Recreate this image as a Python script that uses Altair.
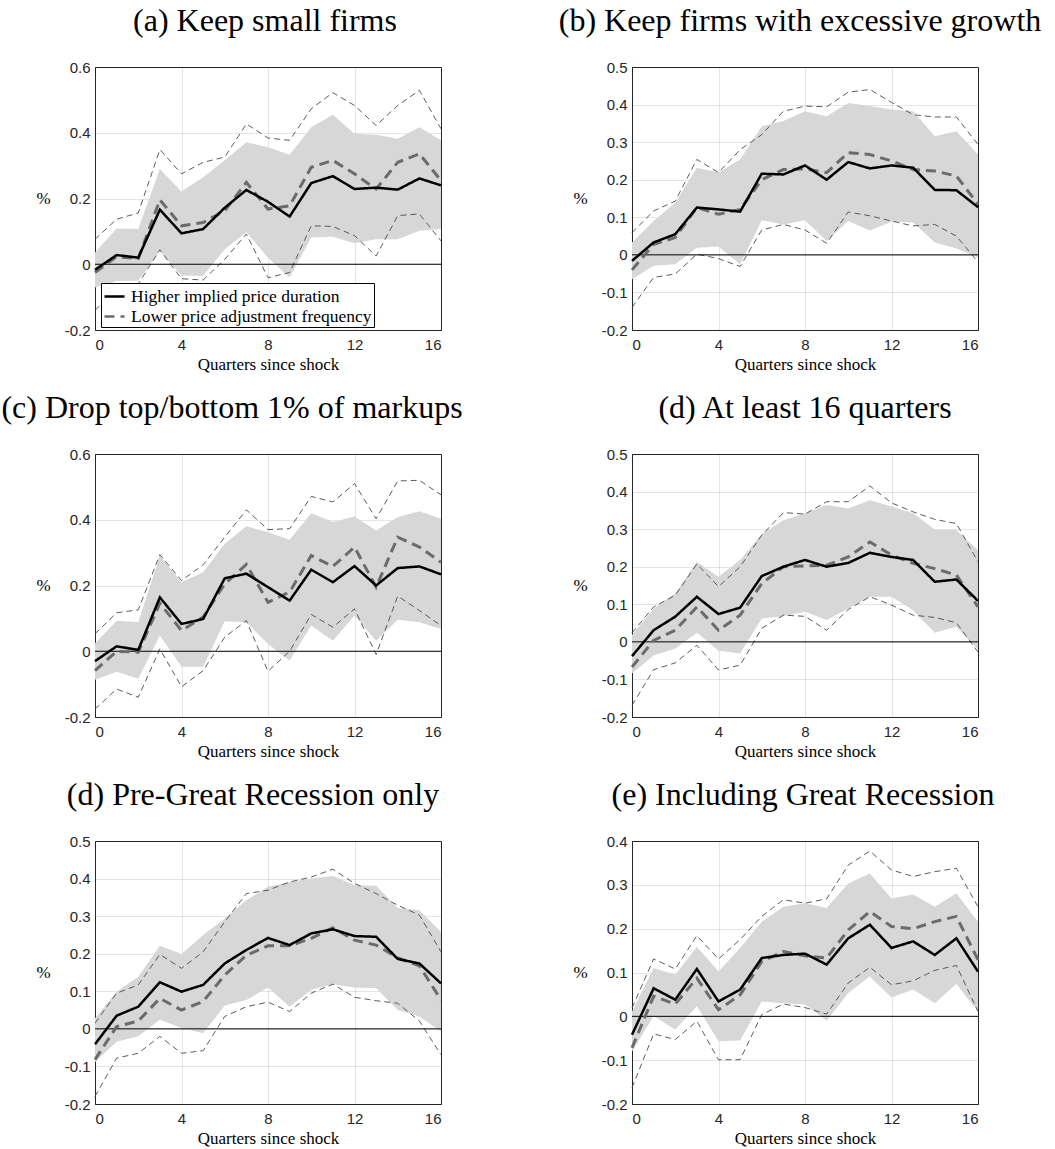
import altair as alt
import pandas as pd

# ---------------------------------------------------------------------------
# Impulse responses (in %) over 0..16 quarters after the shock.
#   *_dur       : higher implied price duration (point estimate)
#   *_dur_lo/hi : its confidence band (shaded)
#   *_freq      : lower price adjustment frequency (point estimate)
#   *_freq_lo/hi: its confidence band (thin dashed)
# ---------------------------------------------------------------------------
quarters = list(range(17))
x_ticks = [0, 4, 8, 12, 16]

series_names = ["Higher implied price duration", "Lower price adjustment frequency"]

titles = [
    "(a) Keep small firms",
    "(b) Keep firms with excessive growth",
    "(c) Drop top/bottom 1% of markups",
    "(d) At least 16 quarters",
    "(d) Pre-Great Recession only",
    "(e) Including Great Recession",
]
# horizontal centre of each heading, measured from the plot's left edge
title_centres = [170, 168, 137, 173, 158, 171]

y_domains = [[-0.2, 0.6], [-0.2, 0.5], [-0.2, 0.6], [-0.2, 0.5], [-0.2, 0.5], [-0.2, 0.4]]
y_ticks = [
    [-0.2, 0.0, 0.2, 0.4, 0.6],
    [-0.2, -0.1, 0.0, 0.1, 0.2, 0.3, 0.4, 0.5],
    [-0.2, 0.0, 0.2, 0.4, 0.6],
    [-0.2, -0.1, 0.0, 0.1, 0.2, 0.3, 0.4, 0.5],
    [-0.2, -0.1, 0.0, 0.1, 0.2, 0.3, 0.4, 0.5],
    [-0.2, -0.1, 0.0, 0.1, 0.2, 0.3, 0.4],
]

# (a) Keep small firms
a_dur = [-0.017, 0.028, 0.02, 0.166, 0.094, 0.107, 0.172, 0.226, 0.19, 0.145, 0.247, 0.268, 0.229, 0.233, 0.227, 0.261, 0.24]
a_freq = [-0.025, 0.023, 0.017, 0.196, 0.117, 0.127, 0.163, 0.249, 0.168, 0.178, 0.295, 0.316, 0.275, 0.229, 0.31, 0.336, 0.255]
a_dur_lo = [-0.071, -0.051, -0.05, 0.04, -0.034, -0.036, 0.046, 0.097, 0.02, -0.04, 0.081, 0.084, 0.064, 0.076, 0.076, 0.102, 0.107]
a_dur_hi = [0.036, 0.109, 0.107, 0.29, 0.221, 0.265, 0.316, 0.371, 0.356, 0.333, 0.417, 0.455, 0.397, 0.394, 0.382, 0.417, 0.377]
a_freq_lo = [-0.14, -0.075, -0.06, 0.044, -0.044, -0.048, 0.015, 0.092, -0.041, -0.025, 0.117, 0.115, 0.087, 0.025, 0.148, 0.153, 0.071]
a_freq_hi = [0.076, 0.137, 0.156, 0.349, 0.275, 0.31, 0.326, 0.427, 0.384, 0.377, 0.473, 0.522, 0.483, 0.422, 0.483, 0.529, 0.412]

# (b) Keep firms with excessive growth
b_dur = [-0.016, 0.033, 0.055, 0.126, 0.121, 0.115, 0.216, 0.214, 0.238, 0.2, 0.247, 0.23, 0.238, 0.232, 0.173, 0.172, 0.127]
b_freq = [-0.04, 0.028, 0.046, 0.126, 0.108, 0.121, 0.2, 0.227, 0.229, 0.219, 0.272, 0.267, 0.25, 0.227, 0.223, 0.21, 0.135]
b_dur_lo = [-0.065, -0.029, -0.025, 0.019, 0.022, -0.025, 0.092, 0.081, 0.092, 0.037, 0.09, 0.065, 0.088, 0.086, 0.033, 0.017, -0.007]
b_dur_hi = [0.033, 0.09, 0.139, 0.232, 0.219, 0.254, 0.342, 0.356, 0.382, 0.369, 0.404, 0.396, 0.387, 0.382, 0.316, 0.329, 0.267]
b_freq_lo = [-0.14, -0.06, -0.051, 0.002, -0.01, -0.031, 0.066, 0.081, 0.066, 0.031, 0.114, 0.104, 0.09, 0.077, 0.081, 0.05, -0.019]
b_freq_hi = [0.059, 0.117, 0.143, 0.254, 0.219, 0.28, 0.32, 0.382, 0.396, 0.394, 0.433, 0.44, 0.406, 0.373, 0.367, 0.367, 0.294]

# (c) Drop top/bottom 1% of markups
c_dur = [-0.03, 0.015, 0.004, 0.164, 0.083, 0.098, 0.222, 0.236, 0.195, 0.154, 0.248, 0.21, 0.259, 0.2, 0.253, 0.258, 0.234]
c_freq = [-0.059, 0.0, -0.003, 0.146, 0.063, 0.104, 0.205, 0.264, 0.149, 0.18, 0.291, 0.258, 0.317, 0.195, 0.347, 0.317, 0.271]
c_dur_lo = [-0.087, -0.062, -0.084, 0.048, -0.047, -0.047, 0.091, 0.088, 0.022, -0.028, 0.078, 0.032, 0.109, 0.032, 0.096, 0.088, 0.068]
c_dur_hi = [0.024, 0.093, 0.088, 0.291, 0.21, 0.24, 0.327, 0.38, 0.362, 0.339, 0.42, 0.393, 0.41, 0.367, 0.408, 0.426, 0.403]
c_freq_lo = [-0.176, -0.115, -0.14, 0.007, -0.108, -0.059, 0.043, 0.093, -0.061, 0.0, 0.112, 0.073, 0.129, -0.01, 0.168, 0.124, 0.078]
c_freq_hi = [0.053, 0.117, 0.126, 0.294, 0.215, 0.263, 0.347, 0.43, 0.37, 0.373, 0.471, 0.454, 0.51, 0.403, 0.518, 0.52, 0.476]

# (d) At least 16 quarters
d_dur = [-0.038, 0.031, 0.067, 0.12, 0.074, 0.091, 0.175, 0.2, 0.218, 0.2, 0.21, 0.237, 0.226, 0.218, 0.16, 0.166, 0.109]
d_freq = [-0.067, 0.004, 0.031, 0.093, 0.031, 0.071, 0.155, 0.2, 0.202, 0.204, 0.226, 0.266, 0.231, 0.209, 0.195, 0.178, 0.093]
d_dur_lo = [-0.084, -0.036, -0.018, 0.024, -0.024, -0.031, 0.062, 0.068, 0.08, 0.058, 0.089, 0.12, 0.12, 0.084, 0.024, 0.04, -0.022]
d_dur_hi = [0.018, 0.089, 0.129, 0.213, 0.173, 0.218, 0.287, 0.324, 0.342, 0.364, 0.355, 0.377, 0.36, 0.342, 0.299, 0.298, 0.244]
d_freq_lo = [-0.169, -0.074, -0.056, -0.009, -0.075, -0.062, 0.036, 0.071, 0.068, 0.031, 0.086, 0.12, 0.098, 0.071, 0.065, 0.051, -0.027]
d_freq_hi = [0.024, 0.093, 0.124, 0.207, 0.147, 0.2, 0.284, 0.344, 0.34, 0.373, 0.373, 0.415, 0.37, 0.346, 0.326, 0.315, 0.213]

# (d) Pre-Great Recession only
e_dur = [-0.041, 0.035, 0.059, 0.124, 0.099, 0.117, 0.174, 0.21, 0.242, 0.223, 0.254, 0.265, 0.247, 0.245, 0.186, 0.174, 0.121]
e_freq = [-0.082, 0.006, 0.021, 0.081, 0.05, 0.073, 0.143, 0.196, 0.221, 0.221, 0.241, 0.269, 0.236, 0.223, 0.189, 0.168, 0.077]
e_dur_lo = [-0.088, -0.034, -0.02, 0.024, 0.002, -0.012, 0.062, 0.077, 0.11, 0.059, 0.104, 0.119, 0.11, 0.108, 0.05, 0.033, -0.007]
e_dur_hi = [0.028, 0.099, 0.139, 0.221, 0.199, 0.25, 0.294, 0.342, 0.378, 0.391, 0.4, 0.407, 0.382, 0.381, 0.322, 0.316, 0.258]
e_freq_lo = [-0.18, -0.078, -0.065, -0.02, -0.065, -0.058, 0.033, 0.059, 0.071, 0.046, 0.095, 0.119, 0.084, 0.075, 0.068, 0.021, -0.069]
e_freq_hi = [0.015, 0.095, 0.117, 0.198, 0.161, 0.205, 0.285, 0.36, 0.369, 0.391, 0.404, 0.425, 0.387, 0.36, 0.329, 0.303, 0.205]

# (e) Including Great Recession
f_dur = [-0.042, 0.064, 0.038, 0.108, 0.034, 0.061, 0.133, 0.14, 0.143, 0.118, 0.178, 0.209, 0.156, 0.171, 0.14, 0.178, 0.102]
f_freq = [-0.072, 0.046, 0.028, 0.087, 0.015, 0.049, 0.125, 0.148, 0.138, 0.133, 0.197, 0.239, 0.205, 0.2, 0.216, 0.228, 0.129]
f_dur_lo = [-0.08, 0.0, -0.03, 0.023, -0.057, -0.055, 0.034, 0.03, 0.027, -0.01, 0.053, 0.091, 0.043, 0.061, 0.03, 0.074, 0.011]
f_dur_hi = [0.011, 0.11, 0.095, 0.159, 0.102, 0.156, 0.216, 0.25, 0.258, 0.247, 0.303, 0.326, 0.269, 0.278, 0.25, 0.281, 0.216]
f_freq_lo = [-0.163, -0.04, -0.053, -0.011, -0.099, -0.099, 0.004, 0.028, 0.02, 0.005, 0.076, 0.112, 0.072, 0.081, 0.105, 0.116, 0.011]
f_freq_hi = [0.019, 0.131, 0.108, 0.184, 0.131, 0.175, 0.228, 0.266, 0.258, 0.268, 0.345, 0.377, 0.334, 0.319, 0.33, 0.338, 0.25]

panels = [
    (a_dur, a_freq, a_dur_lo, a_dur_hi, a_freq_lo, a_freq_hi),
    (b_dur, b_freq, b_dur_lo, b_dur_hi, b_freq_lo, b_freq_hi),
    (c_dur, c_freq, c_dur_lo, c_dur_hi, c_freq_lo, c_freq_hi),
    (d_dur, d_freq, d_dur_lo, d_dur_hi, d_freq_lo, d_freq_hi),
    (e_dur, e_freq, e_dur_lo, e_dur_hi, e_freq_lo, e_freq_hi),
    (f_dur, f_freq, f_dur_lo, f_dur_hi, f_freq_lo, f_freq_hi),
]

PLOT_W = 346
PLOT_H = 263
SERIF = "Liberation Serif"
SANS = "Liberation Sans"
INK = "#262626"

# tick labels as "-0.2", "0", "0.2" (plain hyphen, bare zero)
Y_LABEL_EXPR = (
    "abs(datum.value) < 1e-9 ? '0' : (datum.value < 0 ? '-' + format(-datum.value, '.1f')"
    " : format(datum.value, '.1f'))"
)


def make_panel(i, show_legend):
    dur, freq, dur_lo, dur_hi, freq_lo, freq_hi = panels[i]

    x_scale = alt.Scale(domain=[0, 16], nice=False, zero=False)
    x_axis = alt.Axis(
        values=x_ticks, title="Quarters since shock", format="d", labelOverlap=False
    )
    y_scale = alt.Scale(domain=y_domains[i], nice=False, zero=False)
    y_axis = alt.Axis(
        values=y_ticks[i],
        tickCount=len(y_ticks[i]),
        title="%",
        labelExpr=Y_LABEL_EXPR,
        labelOverlap=False,
    )

    def xq(field="q"):
        return alt.X(f"{field}:Q", scale=x_scale, axis=x_axis)

    def yv(field):
        return alt.Y(f"{field}:Q", scale=y_scale, axis=y_axis)

    band_df = pd.DataFrame({"q": quarters, "lo": dur_lo, "hi": dur_hi})
    band = alt.Chart(band_df).mark_area(color="#d7d7d7", opacity=1).encode(
        x=xq(), y=yv("lo"), y2="hi:Q"
    )

    ci_df = pd.DataFrame(
        {
            "q": quarters + quarters,
            "v": freq_lo + freq_hi,
            "bound": ["lower"] * 17 + ["upper"] * 17,
        }
    )
    ci = alt.Chart(ci_df).mark_line(
        color="#4a4a4a", strokeWidth=0.9, strokeDash=[6, 4]
    ).encode(x=xq(), y=yv("v"), detail="bound:N")

    zero = alt.Chart(pd.DataFrame({"y": [0.0]})).mark_rule(
        color="black", strokeWidth=1
    ).encode(y=yv("y"))

    lines_df = pd.DataFrame(
        {
            "q": quarters + quarters,
            "v": dur + freq,
            "series": [series_names[0]] * 17 + [series_names[1]] * 17,
        }
    )
    if show_legend:
        leg = alt.Legend(
            title=None,
            orient="none",
            legendX=6,
            legendY=216,
            fillColor="white",
            strokeColor="black",
            padding=2,
            rowPadding=0,
            symbolType="stroke",
            symbolSize=400,
            symbolStrokeWidth=2.5,
            labelFont=SERIF,
            labelFontSize=17.5,
            labelColor="black",
            labelOffset=5,
            labelLimit=400,
            cornerRadius=0,
        )
    else:
        leg = None
    color = alt.Color(
        "series:N",
        scale=alt.Scale(domain=series_names, range=["#000000", "#6b6b6b"]),
        legend=leg,
    )
    dash = alt.StrokeDash(
        "series:N",
        scale=alt.Scale(domain=series_names, range=[[1, 0], [10, 6]]),
        legend=leg,
    )
    freq_line = (
        alt.Chart(lines_df)
        .transform_filter(alt.datum.series == series_names[1])
        .mark_line(strokeWidth=3)
        .encode(x=xq(), y=yv("v"), color=color, strokeDash=dash)
    )
    dur_line = (
        alt.Chart(lines_df)
        .transform_filter(alt.datum.series == series_names[0])
        .mark_line(strokeWidth=2.5)
        .encode(x=xq(), y=yv("v"), color=color, strokeDash=dash)
    )

    # panel heading above the plot area
    heading = alt.Chart(pd.DataFrame({"t": [titles[i]]})).mark_text(
        font=SERIF,
        fontSize=32,
        color="black",
        align="center",
        baseline="alphabetic",
    ).encode(x=alt.value(title_centres[i]), y=alt.value(-36), text="t:N")

    return alt.layer(band, ci, zero, freq_line, dur_line, heading).properties(
        width=PLOT_W,
        height=PLOT_H,
    )


chart = (
    alt.concat(
        *[make_panel(i, show_legend=(i == 0)) for i in range(6)],
        columns=2,
        spacing={"row": 124, "column": 191},
        bounds="flush",
    )
    .resolve_scale(color="independent", strokeDash="independent")
    .properties(padding={"left": 0, "top": 4, "right": 0, "bottom": 0})
    .configure_view(stroke=INK, strokeWidth=1)
    .configure_axis(
        domainColor=INK,
        domainWidth=1,
        ticks=False,
        labelFont=SANS,
        labelFontSize=15,
        labelColor=INK,
        labelOverlap=False,
        grid=True,
        gridColor=INK,
        gridOpacity=0.12,
        gridWidth=1,
        zindex=1,
        titleFont=SERIF,
        titleFontWeight="normal",
        titleColor="black",
    )
    .configure_axisX(labelPadding=7, titleFontSize=17, titlePadding=4)
    .configure_axisY(
        labelPadding=5,
        titleFontSize=17,
        titleAngle=0,
        titleX=-52,
        titleY=PLOT_H / 2,
        titleAlign="center",
        titleBaseline="middle",
    )
)

chart.save("out.html", embed_options={"renderer": "svg", "actions": False})
